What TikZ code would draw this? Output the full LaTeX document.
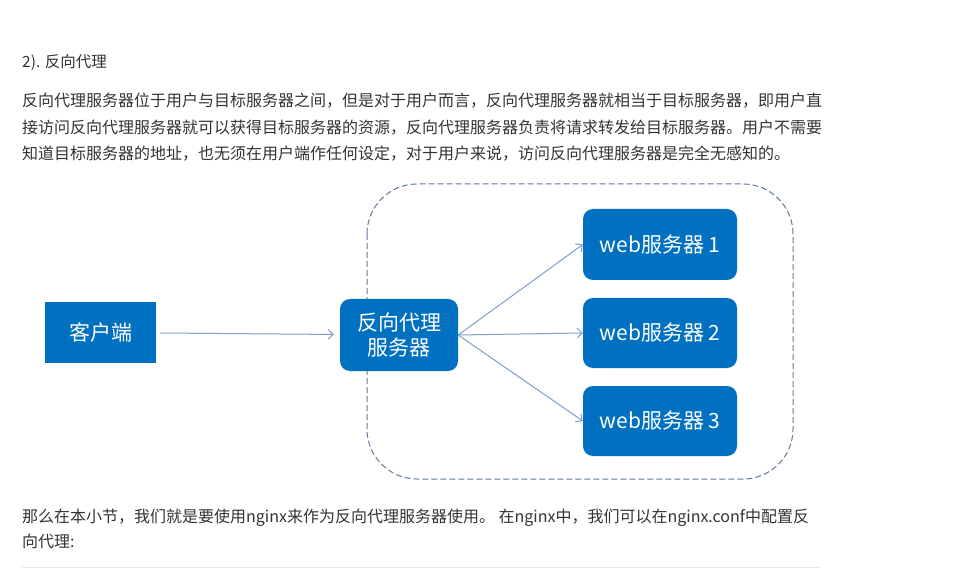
\documentclass[tikz,border=0pt]{standalone}
\usepackage{fontspec}
\setmainfont{Noto Sans CJK SC}
\usetikzlibrary{arrows.meta}

\definecolor{boxblue}{HTML}{0070C0}
\definecolor{linkblue}{HTML}{7F9DCB}
\definecolor{groupgray}{HTML}{62799C}
\definecolor{bodytext}{HTML}{333333}
\definecolor{rulegray}{HTML}{E8E8E8}

\begin{document}
\begin{tikzpicture}[x=1pt,y=-1pt,
		bodyline/.style={anchor=base west,inner sep=0pt,text=bodytext,font=\fontsize{16}{20}\selectfont},
		plainbox/.style={fill=boxblue,text=white,inner sep=0pt,font=\fontsize{21}{25}\selectfont},
		roundbox/.style={plainbox,rounded corners=10pt,align=center},
		link/.style={draw=linkblue,line width=1pt,-{Straight Barb[length=5pt,width=10pt]}}]
	\useasboundingbox (0,0) rectangle (964,569);
	% text above the picture
	\node[bodyline,font=\fontsize{15.5}{18}\selectfont] (head) at (22,68) {2). 反向代理};
	\node[bodyline] (par1) at (22,107) {反向代理服务器位于用户与目标服务器之间，但是对于用户而言，反向代理服务器就相当于目标服务器，即用户直};
	\node[bodyline] (par2) at (22,134) {接访问反向代理服务器就可以获得目标服务器的资源，反向代理服务器负责将请求转发给目标服务器。用户不需要};
	\node[bodyline] (par3) at (22,160) {知道目标服务器的地址，也无须在用户端作任何设定，对于用户来说，访问反向代理服务器是完全无感知的。};
	% group of servers
	\draw[groupgray,line width=1pt,dash pattern=on 6pt off 3pt,rounded corners=50pt] (367,184) rectangle (793,479);
	% boxes
	\node[plainbox,minimum width=111pt,minimum height=61pt] (client) at (100.5,332.5) {客户端};
	\node[roundbox,minimum width=118pt,minimum height=72pt] (proxy) at (399,335) {反向代理\\服务器};
	\node[roundbox,minimum width=154pt,minimum height=71pt] (web1) at (660,244.5) {web服务器 1};
	\node[roundbox,minimum width=154pt,minimum height=70pt] (web2) at (660,333) {web服务器 2};
	\node[roundbox,minimum width=154pt,minimum height=70pt] (web3) at (660,421) {web服务器 3};
	% arrows
	\draw[link,shorten <=4pt,shorten >=6pt] (client) -- (proxy);
	\draw[link] (proxy.east) -- (web1.west);
	\draw[link] (proxy.east) -- (web2.west);
	\draw[link] (proxy.east) -- (web3.west);
	% text below the picture
	\node[bodyline] (after1) at (22,522) {那么在本小节，我们就是要使用nginx来作为反向代理服务器使用。 在nginx中，我们可以在nginx.conf中配置反};
	\node[bodyline] (after2) at (22,547) {向代理:};
	\draw[rulegray,line width=1pt] (22,567) -- (820,567);
\end{tikzpicture}
\end{document}
